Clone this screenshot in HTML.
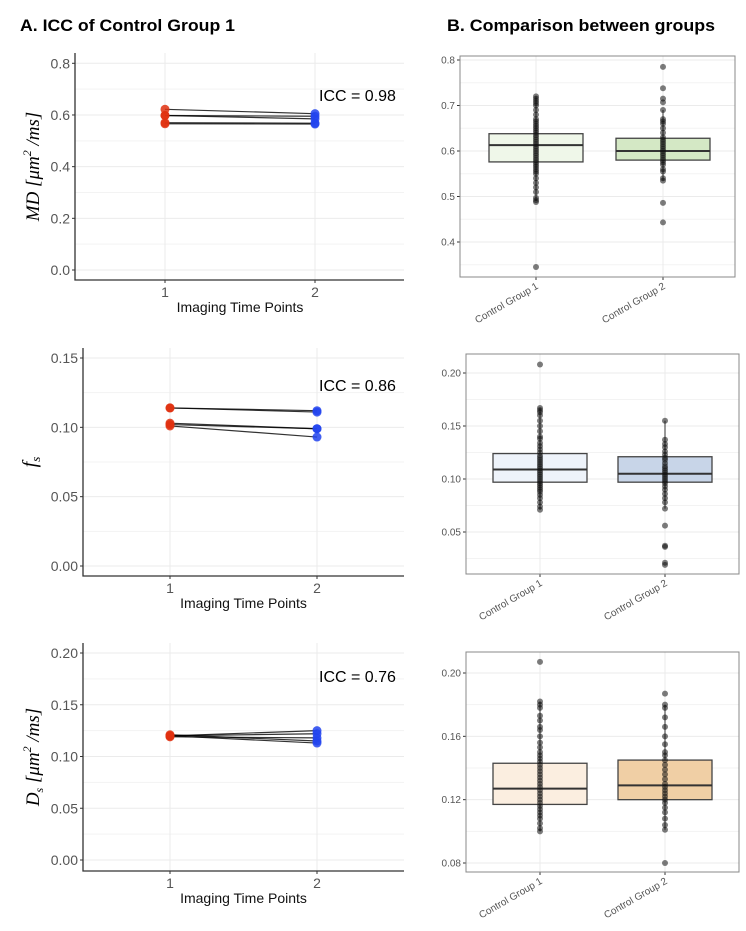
<!DOCTYPE html>
<html><head><meta charset="utf-8"><style>
body{margin:0;background:#fff;}
svg{display:block;font-family:"Liberation Sans",sans-serif;}
</style></head><body>
<svg id="fig" width="746" height="931" viewBox="0 0 746 931" xmlns="http://www.w3.org/2000/svg">
<text x="20" y="31" font-size="17" font-weight="bold" textLength="215" lengthAdjust="spacingAndGlyphs">A. ICC of Control Group 1</text>
<text x="447" y="31" font-size="17" font-weight="bold" textLength="268" lengthAdjust="spacingAndGlyphs">B. Comparison between groups</text>
</svg>
<script>
// ---- Panel A data (paired time points) ----
const mdT1 = [0.622, 0.598, 0.598, 0.570, 0.566];
const mdT2 = [0.605, 0.595, 0.585, 0.568, 0.565];
const fsT1 = [0.114, 0.114, 0.102, 0.101, 0.103];
const fsT2 = [0.112, 0.111, 0.099, 0.093, 0.099];
const dsT1 = [0.120, 0.120, 0.119, 0.120, 0.121];
const dsT2 = [0.125, 0.122, 0.118, 0.113, 0.115];
const mdTicks = [0, 0.2, 0.4, 0.6, 0.8];
const fsTicks = [0, 0.05, 0.10, 0.15];
const dsTicks = [0, 0.05, 0.10, 0.15, 0.20];
const mdTickLabels = ["0.0","0.2","0.4","0.6","0.8"];
const fsTickLabels = ["0.00","0.05","0.10","0.15"];
const dsTickLabels = ["0.00","0.05","0.10","0.15","0.20"];
const iccLabels = ["ICC = 0.98","ICC = 0.86","ICC = 0.76"];
const timeCategories = ["1","2"];
// ---- Panel B data (box plots) ----
const groupNames = ["Control Group 1","Control Group 2"];
const mdBox1 = [0.576, 0.613, 0.638]; const mdBox2 = [0.580, 0.600, 0.628];
const mdWhisk1 = [0.49, 0.72]; const mdWhisk2 = [0.535, 0.69];
const mdPts1 = [0.345,0.488,0.492,0.497,0.51,0.52,0.53,0.54,0.55,0.555,0.56,0.565,0.57,0.575,0.58,0.585,0.59,0.595,0.60,0.605,0.61,0.615,0.62,0.625,0.63,0.635,0.64,0.645,0.65,0.655,0.66,0.665,0.67,0.68,0.69,0.70,0.705,0.71,0.715,0.72];
const mdPts2 = [0.443,0.486,0.535,0.54,0.555,0.56,0.57,0.575,0.58,0.585,0.59,0.595,0.60,0.605,0.61,0.615,0.62,0.625,0.63,0.64,0.65,0.66,0.665,0.67,0.69,0.707,0.715,0.738,0.785];
const mdBTicks = [0.4,0.5,0.6,0.7,0.8]; const mdBLabels = ["0.4","0.5","0.6","0.7","0.8"];
const fsBox1 = [0.097, 0.109, 0.124]; const fsBox2 = [0.097, 0.105, 0.121];
const fsWhisk1 = [0.071, 0.167]; const fsWhisk2 = [0.072, 0.155];
const fsPts1 = [0.071,0.074,0.078,0.082,0.085,0.088,0.09,0.092,0.094,0.096,0.098,0.10,0.102,0.104,0.106,0.108,0.11,0.112,0.114,0.116,0.118,0.12,0.122,0.125,0.128,0.131,0.134,0.138,0.14,0.145,0.15,0.155,0.16,0.163,0.165,0.167,0.208];
const fsPts2 = [0.019,0.021,0.036,0.037,0.056,0.072,0.078,0.082,0.086,0.09,0.093,0.096,0.098,0.10,0.102,0.104,0.106,0.108,0.11,0.112,0.115,0.118,0.12,0.123,0.126,0.13,0.133,0.137,0.155];
const fsBTicks = [0.05,0.10,0.15,0.20]; const fsBLabels = ["0.05","0.10","0.15","0.20"];
const dsBox1 = [0.117, 0.127, 0.143]; const dsBox2 = [0.120, 0.129, 0.145];
const dsWhisk1 = [0.100, 0.182]; const dsWhisk2 = [0.101, 0.180];
const dsPts1 = [0.100,0.102,0.105,0.108,0.11,0.112,0.114,0.116,0.118,0.12,0.122,0.124,0.126,0.128,0.13,0.132,0.134,0.136,0.138,0.14,0.142,0.144,0.146,0.148,0.15,0.153,0.156,0.16,0.164,0.166,0.17,0.173,0.178,0.18,0.182,0.207];
const dsPts2 = [0.080,0.101,0.104,0.108,0.112,0.115,0.118,0.12,0.122,0.124,0.126,0.128,0.13,0.133,0.136,0.139,0.142,0.145,0.148,0.15,0.155,0.16,0.166,0.172,0.178,0.18,0.187];
const dsBTicks = [0.08,0.12,0.16,0.20]; const dsBLabels = ["0.08","0.12","0.16","0.20"];

const NS = "http://www.w3.org/2000/svg";
const svg = document.getElementById('fig');
function mk(tag, attrs, parent){ const e=document.createElementNS(NS,tag); for(const k in attrs) e.setAttribute(k,attrs[k]); (parent||svg).appendChild(e); return e; }
function lin(d0,d1,r0,r1){ return v=> r0+(v-d0)/(d1-d0)*(r1-r0); }

function panelA(cfg){
  const g = mk('g',{});
  
  
  const y = lin(cfg.t0, cfg.t1, cfg.y0, cfg.y1);
  const x = lin(1, 2, cfg.x1, cfg.x2);
  const right = 404;
  for(let i=0;i<cfg.ticks.length-1;i++){
    const m=(cfg.ticks[i]+cfg.ticks[i+1])/2;
    const l=mk('line',{x1:cfg.ax,x2:right,y1:y(m),y2:y(m),stroke:'#f3f3f3','stroke-width':1},g);
     
  }
  cfg.ticks.forEach((t,i)=>{
    const l=mk('line',{x1:cfg.ax,x2:right,y1:y(t),y2:y(t),stroke:'#ebebeb','stroke-width':1},g);
     
    const tk=mk('line',{x1:cfg.ax-3,x2:cfg.ax,y1:y(t),y2:y(t),stroke:'#333'},g);
     
    const tx=mk('text',{x:cfg.ax-5,y:y(t)+5,'font-size':14,fill:'#555','text-anchor':'end'},g);
     
    tx.textContent=cfg.labels[i];
  });
  timeCategories.forEach((c,i)=>{
    const xv=x(i+1);
    const l=mk('line',{x1:xv,x2:xv,y1:cfg.top,y2:cfg.bottom,stroke:'#ebebeb'},g);
     
    const tk=mk('line',{x1:xv,x2:xv,y1:cfg.bottom,y2:cfg.bottom+3,stroke:'#333'},g);
     
    const tx=mk('text',{x:xv,y:cfg.bottom+17,'font-size':14,fill:'#555','text-anchor':'middle'},g);
     
    tx.textContent=c;
  });
  const ax=mk('path',{d:`M${cfg.ax},${cfg.top}V${cfg.bottom}H${right}`,fill:'none',stroke:'#333','stroke-width':1.3},g);
   
  cfg.a.forEach((v,i)=>{
    const l=mk('line',{x1:x(1),y1:y(v),x2:x(2),y2:y(cfg.b[i]),stroke:'#000','stroke-opacity':0.8,'stroke-width':1.2},g);
     
  });
  cfg.a.forEach(v=>{ const c=mk('circle',{cx:x(1),cy:y(v),r:4.5,fill:'#e0300f','fill-opacity':0.85},g);
      });
  cfg.b.forEach(v=>{ const c=mk('circle',{cx:x(2),cy:y(v),r:4.5,fill:'#2244ee','fill-opacity':0.85},g);
      });
  const icc=mk('text',{x:319,y:cfg.iccY,'font-size':16,fill:'#000'},g);
   
  icc.textContent=cfg.icc;
  const xt=mk('text',{x:(cfg.x1+cfg.x2)/2,y:cfg.bottom+32,'font-size':14,fill:'#111','text-anchor':'middle'},g);
   
  xt.textContent='Imaging Time Points';
  const attrs={x:0,y:0,'font-size':cfg.yfs,'font-family':'"Liberation Serif",serif','font-style':'italic','text-anchor':'middle',transform:`translate(${cfg.ytx},${(cfg.top+cfg.bottom)/2}) rotate(-90)`};
  if(cfg.ylen){ attrs.textLength=cfg.ylen; attrs.lengthAdjust='spacingAndGlyphs'; }
  const yt=mk('text',attrs,g);
   
  yt.innerHTML=cfg.ytitle;
}
panelA({name:'panel-a-md',t0:0,t1:0.8,y0:270,y1:63.3,x1:165,x2:315,ax:75,top:53,bottom:280,ticks:mdTicks,labels:mdTickLabels,a:mdT1,b:mdT2,icc:iccLabels[0],iccY:101,ytx:39,yfs:19,ytitle:'MD [μm<tspan font-size="12" dy="-8">2</tspan><tspan dy="8"> /ms]</tspan>'});
panelA({name:'panel-a-fs',t0:0,t1:0.15,y0:566,y1:358,x1:170,x2:317,ax:83,top:348,bottom:576,ticks:fsTicks,labels:fsTickLabels,a:fsT1,b:fsT2,icc:iccLabels[1],iccY:391,ytx:36,yfs:20,ytitle:'f<tspan font-size="13" dy="4">s</tspan>'});
panelA({name:'panel-a-ds',t0:0,t1:0.20,y0:860,y1:653,x1:170,x2:317,ax:83,top:643,bottom:871,ticks:dsTicks,labels:dsTickLabels,a:dsT1,b:dsT2,icc:iccLabels[2],iccY:682,ytx:39,yfs:19,ytitle:'D<tspan font-size="12" dy="4">s</tspan><tspan dy="-4"> [μm</tspan><tspan font-size="12" dy="-8">2</tspan><tspan dy="8"> /ms]</tspan>'});

function panelB(cfg){
  const g=mk('g',{});
  
  
  const y=lin(cfg.t0,cfg.t1,cfg.y0,cfg.y1);
  const gx=[cfg.g1,cfg.g2];
  const step=cfg.ticks[1]-cfg.ticks[0];
  for(let v=cfg.ticks[0]-step/2; v<=cfg.ticks[cfg.ticks.length-1]+step; v+=step){
    const yy=y(v); if(yy<cfg.top||yy>cfg.bottom) continue;
    const l=mk('line',{x1:cfg.left,x2:cfg.right,y1:yy,y2:yy,stroke:'#f3f3f3'},g);
     
  }
  cfg.ticks.forEach((t,i)=>{
    const l=mk('line',{x1:cfg.left,x2:cfg.right,y1:y(t),y2:y(t),stroke:'#ebebeb'},g);
     
    const tk=mk('line',{x1:cfg.left-3,x2:cfg.left,y1:y(t),y2:y(t),stroke:'#333'},g);
     
    const tx=mk('text',{x:cfg.left-5,y:y(t)+3.5,'font-size':10,fill:'#555','text-anchor':'end'},g);
     
    tx.textContent=cfg.labels[i];
  });
  gx.forEach((xv,i)=>{
    const l=mk('line',{x1:xv,x2:xv,y1:cfg.top,y2:cfg.bottom,stroke:'#ebebeb'},g);
     
    const tk=mk('line',{x1:xv,x2:xv,y1:cfg.bottom,y2:cfg.bottom+3,stroke:'#333'},g);
     
    const tx=mk('text',{x:0,y:0,'font-size':10,fill:'#555','text-anchor':'end',transform:`translate(${xv+3},${cfg.bottom+11}) rotate(-30)`},g);
     
    tx.textContent=groupNames[i];
  });
  const boxes=[cfg.box1,cfg.box2], wh=[cfg.w1,cfg.w2], pts=[cfg.p1,cfg.p2], fills=cfg.fills;
  boxes.forEach((b,i)=>{
    const xv=gx[i], hw=47;
    const w=mk('line',{x1:xv,x2:xv,y1:y(wh[i][0]),y2:y(wh[i][1]),stroke:'#333'},g);
     
    const r=mk('rect',{x:xv-hw,y:y(b[2]),width:2*hw,height:y(b[0])-y(b[2]),fill:fills[i],stroke:'#444','stroke-width':1.3},g);
     
    const m=mk('line',{x1:xv-hw,x2:xv+hw,y1:y(b[1]),y2:y(b[1]),stroke:'#333','stroke-width':2},g);
     
    pts[i].forEach(v=>{
      const c=mk('circle',{cx:xv,cy:y(v),r:3,fill:'#111','fill-opacity':0.55},g);
       
    });
  });
  const fr=mk('rect',{x:cfg.left,y:cfg.top,width:cfg.right-cfg.left,height:cfg.bottom-cfg.top,fill:'none',stroke:'#888','stroke-width':1},g);
   
}
panelB({name:'panel-b-md',t0:0.4,t1:0.8,y0:242,y1:60,left:460,right:735,top:56,bottom:277,g1:536,g2:663,ticks:mdBTicks,labels:mdBLabels,box1:mdBox1,box2:mdBox2,w1:mdWhisk1,w2:mdWhisk2,p1:mdPts1,p2:mdPts2,fills:['#eff7e9','#d4e8c5']});
panelB({name:'panel-b-fs',t0:0.05,t1:0.20,y0:532,y1:373,left:466,right:739,top:354,bottom:574,g1:540,g2:665,ticks:fsBTicks,labels:fsBLabels,box1:fsBox1,box2:fsBox2,w1:fsWhisk1,w2:fsWhisk2,p1:fsPts1,p2:fsPts2,fills:['#eef3fa','#c8d5e8']});
panelB({name:'panel-b-ds',t0:0.08,t1:0.20,y0:863,y1:673,left:466,right:739,top:652,bottom:872,g1:540,g2:665,ticks:dsBTicks,labels:dsBLabels,box1:dsBox1,box2:dsBox2,w1:dsWhisk1,w2:dsWhisk2,p1:dsPts1,p2:dsPts2,fills:['#fbeee0','#f0cfa5']});
</script>
</body></html>
